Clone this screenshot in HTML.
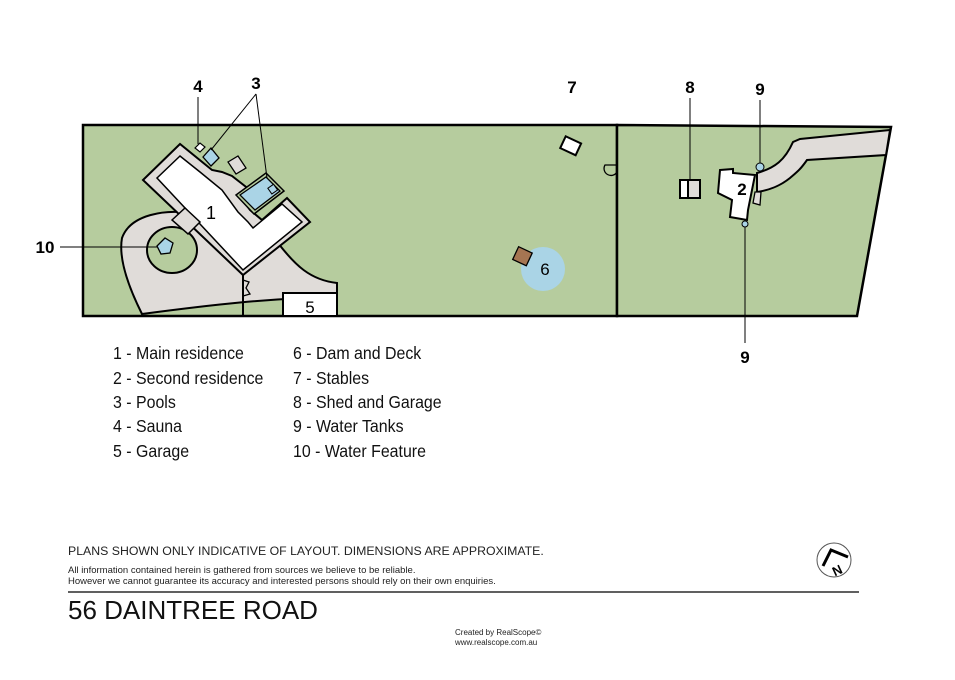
<!DOCTYPE html>
<html><head><meta charset="utf-8"><style>
body{margin:0;background:#fff;width:955px;height:675px;overflow:hidden;font-family:"Liberation Sans",sans-serif}
</style></head><body>
<svg width="955" height="675" viewBox="0 0 955 675" xmlns="http://www.w3.org/2000/svg" font-family="Liberation Sans, sans-serif">
<!-- lots -->
<rect x="83" y="125" width="534" height="191" fill="#b6cc9e" stroke="#000" stroke-width="2.5"/>
<polygon points="617,125 891,127 857,316 617,316" fill="#b6cc9e" stroke="#000" stroke-width="2.5"/>
<!-- left paving -->
<path d="M142,314 C130,290 118,260 122,238 C130,215 165,208 195,214 L243,273 L278,243 C295,265 310,280 337,283 L337,297 C270,298 210,305 142,314 Z" fill="#e0dcd9" stroke="#000" stroke-width="2"/>
<ellipse cx="172" cy="250" rx="25" ry="23" fill="#b6cc9e" stroke="#000" stroke-width="2"/>
<polygon points="157,246 165,238 173,243 170,253 161,254" fill="#aad4e6" stroke="#000" stroke-width="1.3"/>
<line x1="243" y1="273" x2="243" y2="316" stroke="#000" stroke-width="2"/>
<path d="M243,280 L249,282 L246,288 L250,294 L243,296" fill="none" stroke="#000" stroke-width="1.3"/>
<rect x="283" y="293" width="54" height="23" fill="#fff" stroke="#000" stroke-width="2"/>
<text x="310" y="313" font-size="17" text-anchor="middle">5</text>
<!-- main residence paving -->
<polygon points="180,144 143,180 243,275 310,222 287,198 262,220 250,210 240,196 250,190 232,176 222,172 212,170" fill="#e0dcd9" stroke="#000" stroke-width="2"/>
<!-- pool 2 surround -->
<polygon points="236,195 266,173 284,191 254,214" fill="#b6cc9e" stroke="#000" stroke-width="1.5"/>
<polygon points="240,195 266,177 280,191 255,210" fill="#aad4e6" stroke="#000" stroke-width="1.3"/>
<rect x="269" y="186" width="7" height="7" fill="#aad4e6" stroke="#000" stroke-width="1" transform="rotate(-35 272 189)"/>
<!-- building -->
<polygon points="180,156 157,178 243,270 302,222 282,204 253,228 248,222 238,212 222,190 200,172" fill="#fff" stroke="#000" stroke-width="1.5"/>
<polygon points="172,220 185,208 200,222 188,234" fill="#e0dcd9" stroke="#000" stroke-width="1.5"/>
<!-- small pool / sauna -->
<polygon points="203,157 211,148 219,158 211,166" fill="#aad4e6" stroke="#000" stroke-width="1.3"/>
<polygon points="195,148 200,143 205,147 200,152" fill="#fff" stroke="#000" stroke-width="1.2"/>
<polygon points="228,162 238,156 246,168 236,174" fill="#e0dcd9" stroke="#000" stroke-width="1.3"/>
<text x="211" y="219" font-size="18" text-anchor="middle">1</text>
<!-- callouts left -->
<text x="198" y="92" font-size="17" font-weight="bold" text-anchor="middle">4</text>
<line x1="198" y1="97" x2="198" y2="144" stroke="#000" stroke-width="1"/>
<text x="256" y="89" font-size="17" font-weight="bold" text-anchor="middle">3</text>
<line x1="256" y1="94" x2="211" y2="150" stroke="#000" stroke-width="1"/>
<line x1="256" y1="94" x2="267" y2="178" stroke="#000" stroke-width="1"/>
<text x="45" y="253" font-size="17" font-weight="bold" text-anchor="middle">10</text>
<line x1="60" y1="247" x2="158" y2="247" stroke="#000" stroke-width="1"/>
<!-- stables / dam -->
<rect x="562" y="139" width="17" height="13" fill="#fff" stroke="#000" stroke-width="2" transform="rotate(25 570 146)"/>
<text x="572" y="93" font-size="17" font-weight="bold" text-anchor="middle">7</text>
<path d="M617,165 L605,165 A6,6 0 0 0 617,172" fill="none" stroke="#000" stroke-width="1.3"/>
<circle cx="543" cy="269" r="22" fill="#aad4e6"/>
<rect x="515" y="249" width="15" height="14" fill="#a67552" stroke="#000" stroke-width="1.3" transform="rotate(25 522 256)"/>
<text x="545" y="275" font-size="17" text-anchor="middle">6</text>
<!-- right lot -->
<path d="M757,173 C775,168 785,160 793,142 L800,139 L890,130 L886,155 L807,160 C800,170 797,172 790,178 C780,186 770,190 757,192 Z" fill="#e0dcd9" stroke="#000" stroke-width="2"/>
<rect x="688" y="180" width="12" height="18" fill="#e0dcd9" stroke="#000" stroke-width="2"/>
<rect x="680" y="180" width="8" height="18" fill="#fff" stroke="#000" stroke-width="2"/>
<polygon points="755,192 761,192 760,205 753,203" fill="#e0dcd9" stroke="#000" stroke-width="1.3"/>
<polygon points="720,170 733,169 733,173 755,175 748,210 747,220 730,217 732,200 718,193" fill="#fff" stroke="#000" stroke-width="2"/>
<text x="742" y="195" font-size="17" font-weight="bold" text-anchor="middle">2</text>
<text x="690" y="93" font-size="17" font-weight="bold" text-anchor="middle">8</text>
<line x1="690" y1="98" x2="690" y2="180" stroke="#000" stroke-width="1"/>
<text x="760" y="95" font-size="17" font-weight="bold" text-anchor="middle">9</text>
<line x1="760" y1="100" x2="760" y2="163" stroke="#000" stroke-width="1"/>
<circle cx="760" cy="167" r="4" fill="#aad4e6" stroke="#000" stroke-width="1"/>
<circle cx="745" cy="224" r="3" fill="#aad4e6" stroke="#000" stroke-width="1"/>
<line x1="745" y1="227" x2="745" y2="343" stroke="#000" stroke-width="1"/>
<text x="745" y="363" font-size="17" font-weight="bold" text-anchor="middle">9</text>
<!-- legend -->
<g font-size="17.5" fill="#111">
<text transform="translate(113,359) scale(0.91,1)">1 - Main residence</text>
<text transform="translate(113,384) scale(0.91,1)">2 - Second residence</text>
<text transform="translate(113,408) scale(0.91,1)">3 - Pools</text>
<text transform="translate(113,432) scale(0.91,1)">4 - Sauna</text>
<text transform="translate(113,457) scale(0.91,1)">5 - Garage</text>
<text transform="translate(293,359) scale(0.91,1)">6 - Dam and Deck</text>
<text transform="translate(293,384) scale(0.91,1)">7 - Stables</text>
<text transform="translate(293,408) scale(0.91,1)">8 - Shed and Garage</text>
<text transform="translate(293,432) scale(0.91,1)">9 - Water Tanks</text>
<text transform="translate(293,457) scale(0.91,1)">10 - Water Feature</text>
</g>
<!-- footer -->
<text x="68" y="555" font-size="12.3" fill="#222">PLANS SHOWN ONLY INDICATIVE OF LAYOUT.  DIMENSIONS ARE APPROXIMATE.</text>
<text x="68" y="573" font-size="9.5" fill="#222">All information contained herein is gathered from sources we believe to be reliable.</text>
<text x="68" y="584" font-size="9.5" fill="#222">However we cannot guarantee its accuracy and interested persons should rely on their own enquiries.</text>
<line x1="68" y1="592" x2="859" y2="592" stroke="#000" stroke-width="1.3"/>
<text x="68" y="619" font-size="26" fill="#111">56 DAINTREE ROAD</text>
<text x="455" y="635" font-size="8" fill="#222">Created by RealScope©</text>
<text x="455" y="645" font-size="8" fill="#222">www.realscope.com.au</text>
<circle cx="834" cy="560" r="17" fill="#fff" stroke="#555" stroke-width="1"/>
<path d="M823,566 L831,550 L848,557" fill="none" stroke="#000" stroke-width="3"/>
<text x="837" y="575" font-size="13" font-weight="bold" text-anchor="middle" transform="rotate(-25 837 570)">N</text>
</svg>
</body></html>
